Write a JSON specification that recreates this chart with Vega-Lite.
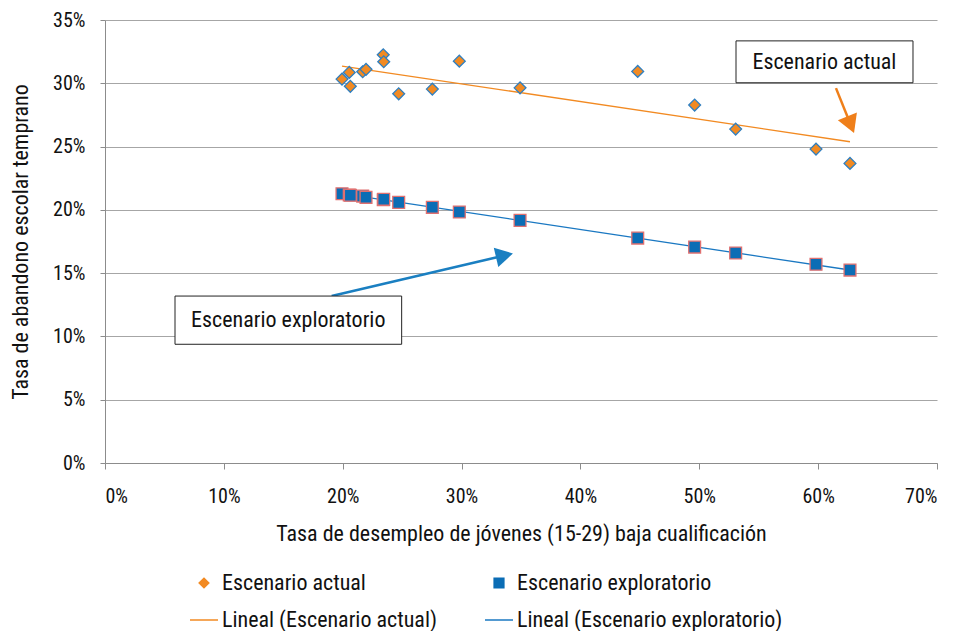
{
  "$schema": "https://vega.github.io/schema/vega-lite/v6.json",
  "width": 832,
  "height": 443,
  "autosize": "none",
  "padding": {"left": 105, "top": 20, "right": 22, "bottom": 168},
  "background": "white",
  "config": {
    "font": "Roboto Condensed, Liberation Sans, sans-serif",
    "view": {"stroke": null},
    "axis": {
      "domainColor": "#8c8c8c",
      "tickColor": "#8c8c8c",
      "labelColor": "#111111",
      "titleColor": "#111111",
      "titleFontWeight": "normal",
      "labelFont": "Roboto Condensed, Liberation Sans, sans-serif",
      "titleFont": "Roboto Condensed, Liberation Sans, sans-serif"
    },
    "legend": {"labelFont": "Roboto Condensed, Liberation Sans, sans-serif"}
  },
  "datasets": {
    "puntos": [
      {"serie": "Escenario actual", "x": 0.1994, "y": 0.3033},
      {"serie": "Escenario actual", "x": 0.2055, "y": 0.3086},
      {"serie": "Escenario actual", "x": 0.2064, "y": 0.2976},
      {"serie": "Escenario actual", "x": 0.2168, "y": 0.3091},
      {"serie": "Escenario actual", "x": 0.2196, "y": 0.3110},
      {"serie": "Escenario actual", "x": 0.2341, "y": 0.3225},
      {"serie": "Escenario actual", "x": 0.2345, "y": 0.3170},
      {"serie": "Escenario actual", "x": 0.2471, "y": 0.2917},
      {"serie": "Escenario actual", "x": 0.2754, "y": 0.2954},
      {"serie": "Escenario actual", "x": 0.2981, "y": 0.3175},
      {"serie": "Escenario actual", "x": 0.3492, "y": 0.2964},
      {"serie": "Escenario actual", "x": 0.4482, "y": 0.3094},
      {"serie": "Escenario actual", "x": 0.4961, "y": 0.2828},
      {"serie": "Escenario actual", "x": 0.5306, "y": 0.2638},
      {"serie": "Escenario actual", "x": 0.5982, "y": 0.2480},
      {"serie": "Escenario actual", "x": 0.6268, "y": 0.2367},
      {"serie": "Escenario exploratorio", "x": 0.1994, "y": 0.2127},
      {"serie": "Escenario exploratorio", "x": 0.2055, "y": 0.2117},
      {"serie": "Escenario exploratorio", "x": 0.2064, "y": 0.2115},
      {"serie": "Escenario exploratorio", "x": 0.2168, "y": 0.2109},
      {"serie": "Escenario exploratorio", "x": 0.2196, "y": 0.2099},
      {"serie": "Escenario exploratorio", "x": 0.2341, "y": 0.2080},
      {"serie": "Escenario exploratorio", "x": 0.2345, "y": 0.2083},
      {"serie": "Escenario exploratorio", "x": 0.2471, "y": 0.2059},
      {"serie": "Escenario exploratorio", "x": 0.2754, "y": 0.2020},
      {"serie": "Escenario exploratorio", "x": 0.2981, "y": 0.1983},
      {"serie": "Escenario exploratorio", "x": 0.3492, "y": 0.1917},
      {"serie": "Escenario exploratorio", "x": 0.4482, "y": 0.1777},
      {"serie": "Escenario exploratorio", "x": 0.4961, "y": 0.1706},
      {"serie": "Escenario exploratorio", "x": 0.5306, "y": 0.1659},
      {"serie": "Escenario exploratorio", "x": 0.5982, "y": 0.1570},
      {"serie": "Escenario exploratorio", "x": 0.6268, "y": 0.1524}
    ],
    "cajas": [
      {"caja": "Escenario actual", "x": 0.5309, "x2": 0.6798, "y": 0.3335, "y2": 0.3004, "tx": 0.6053, "ty": 0.3170},
      {"caja": "Escenario exploratorio", "x": 0.0589, "x2": 0.2496, "y": 0.1319, "y2": 0.0938, "tx": 0.1542, "ty": 0.1128}
    ],
    "flechas": [
      {"flecha": "actual", "x": 0.6150, "y": 0.2962, "x2": 0.6274, "y2": 0.2673},
      {"flecha": "exploratorio", "x": 0.1907, "y": 0.1319, "x2": 0.3361, "y2": 0.1640}
    ]
  },
  "layer": [
    {
      "data": {"name": "puntos"},
      "transform": [
        {"filter": "datum.serie == 'Escenario actual'"},
        {"regression": "y", "on": "x"}
      ],
      "mark": {"type": "line", "strokeWidth": 1.3},
      "encoding": {
        "x": {
          "field": "x", "type": "quantitative",
          "scale": {"domain": [0, 0.7], "nice": false, "zero": false},
          "axis": {
            "title": "Tasa de desempleo de jóvenes (15-29) baja cualificación",
            "values": [0, 0.1, 0.2, 0.3, 0.4, 0.5, 0.6, 0.7],
            "format": ".0%", "grid": false, "tickSize": 6,
            "labelFontSize": 20, "labelPadding": 17,
            "titleFontSize": 22, "titlePadding": 17
          }
        },
        "y": {
          "field": "y", "type": "quantitative",
          "scale": {"domain": [0, 0.35], "nice": false, "zero": false},
          "axis": {
            "title": "Tasa de abandono escolar temprano",
            "values": [0, 0.05, 0.1, 0.15, 0.2, 0.25, 0.3, 0.35],
            "format": ".0%", "grid": true, "gridColor": "#a6a6a6", "gridWidth": 1.2,
            "tickSize": 5, "labelFontSize": 20, "labelPadding": 15,
            "titleFontSize": 22, "titlePadding": 20
          }
        },
        "color": {
          "datum": "Lineal (Escenario actual)",
          "type": "nominal",
          "title": null,
          "scale": {
            "domain": ["Escenario actual", "Lineal (Escenario actual)", "Escenario exploratorio", "Lineal (Escenario exploratorio)"],
            "range": ["#f28a22", "#f28a22", "#0b6db5", "#1a78c2"]
          },
          "legend": {
            "title": null,
            "orient": "none",
            "legendX": 88,
            "legendY": 552,
            "columns": 2,
            "columnPadding": 45,
            "rowPadding": 15,
            "labelFontSize": 22,
            "labelColor": "#111111",
            "labelOffset": 7,
            "labelLimit": 400,
            "symbolSize": 784,
            "symbolStrokeWidth": 1.5,
            "encode": {
              "symbols": {
                "update": {
                  "shape": {"signal": "datum.value == 'Escenario actual' ? 'diamond' : datum.value == 'Escenario exploratorio' ? 'square' : 'stroke'"},
                  "size": {"signal": "datum.value == 'Escenario actual' ? 100 : datum.value == 'Escenario exploratorio' ? 100 : 784"},
                  "fill": {"signal": "datum.value == 'Escenario actual' ? '#f28a22' : datum.value == 'Escenario exploratorio' ? '#0b6db5' : 'transparent'"},
                  "stroke": {"signal": "datum.value == 'Escenario actual' ? '#2f7fc0' : datum.value == 'Escenario exploratorio' ? '#e07070' : datum.value == 'Lineal (Escenario actual)' ? '#f28a22' : '#1a78c2'"},
                  "strokeWidth": {"signal": "datum.value == 'Escenario actual' || datum.value == 'Escenario exploratorio' ? 1.2 : 1.5"},
                  "opacity": {"value": 1}
                }
              }
            }
          }
        }
      }
    },
    {
      "data": {"name": "puntos"},
      "transform": [
        {"filter": "datum.serie == 'Escenario exploratorio'"},
        {"regression": "y", "on": "x"}
      ],
      "mark": {"type": "line", "strokeWidth": 1.3},
      "encoding": {
        "x": {"field": "x", "type": "quantitative"},
        "y": {"field": "y", "type": "quantitative"},
        "color": {"datum": "Lineal (Escenario exploratorio)", "type": "nominal", "title": null}
      }
    },
    {
      "data": {"name": "puntos"},
      "mark": {"type": "point", "filled": true, "opacity": 1, "size": 140, "strokeWidth": 1.3},
      "encoding": {
        "x": {"field": "x", "type": "quantitative"},
        "y": {"field": "y", "type": "quantitative"},
        "color": {"field": "serie", "type": "nominal", "title": null},
        "shape": {
          "field": "serie", "type": "nominal",
          "scale": {"domain": ["Escenario actual", "Escenario exploratorio"], "range": ["diamond", "square"]},
          "legend": null
        },
        "stroke": {
          "field": "serie", "type": "nominal",
          "scale": {"domain": ["Escenario actual", "Escenario exploratorio"], "range": ["#2f7fc0", "#e07070"]},
          "legend": null
        }
      }
    },
    {
      "data": {"name": "flechas"},
      "transform": [{"filter": "datum.flecha == 'actual'"}],
      "mark": {"type": "rule", "color": "#ef7f1a", "strokeWidth": 2.5},
      "encoding": {
        "x": {"field": "x", "type": "quantitative"},
        "y": {"field": "y", "type": "quantitative"},
        "x2": {"field": "x2"},
        "y2": {"field": "y2"}
      }
    },
    {
      "data": {"name": "flechas"},
      "transform": [{"filter": "datum.flecha == 'actual'"}],
      "mark": {"type": "point", "shape": "triangle-up", "filled": true, "color": "#ef7f1a", "opacity": 1, "size": 420, "angle": 158},
      "encoding": {
        "x": {"field": "x2", "type": "quantitative"},
        "y": {"field": "y2", "type": "quantitative"}
      }
    },
    {
      "data": {"name": "flechas"},
      "transform": [{"filter": "datum.flecha == 'exploratorio'"}],
      "mark": {"type": "rule", "color": "#1a7fc1", "strokeWidth": 2.5},
      "encoding": {
        "x": {"field": "x", "type": "quantitative"},
        "y": {"field": "y", "type": "quantitative"},
        "x2": {"field": "x2"},
        "y2": {"field": "y2"}
      }
    },
    {
      "data": {"name": "flechas"},
      "transform": [{"filter": "datum.flecha == 'exploratorio'"}],
      "mark": {"type": "point", "shape": "triangle-up", "filled": true, "color": "#1a7fc1", "opacity": 1, "size": 400, "angle": 77},
      "encoding": {
        "x": {"field": "x2", "type": "quantitative"},
        "y": {"field": "y2", "type": "quantitative"}
      }
    },
    {
      "data": {"name": "cajas"},
      "mark": {"type": "rect", "fill": "white", "stroke": "#222222", "strokeWidth": 1},
      "encoding": {
        "x": {"field": "x", "type": "quantitative"},
        "x2": {"field": "x2"},
        "y": {"field": "y", "type": "quantitative"},
        "y2": {"field": "y2"}
      }
    },
    {
      "data": {"name": "cajas"},
      "mark": {"type": "text", "fontSize": 22, "color": "#111111", "align": "center", "baseline": "middle"},
      "encoding": {
        "x": {"field": "tx", "type": "quantitative"},
        "y": {"field": "ty", "type": "quantitative"},
        "text": {"field": "caja"}
      }
    }
  ]
}
